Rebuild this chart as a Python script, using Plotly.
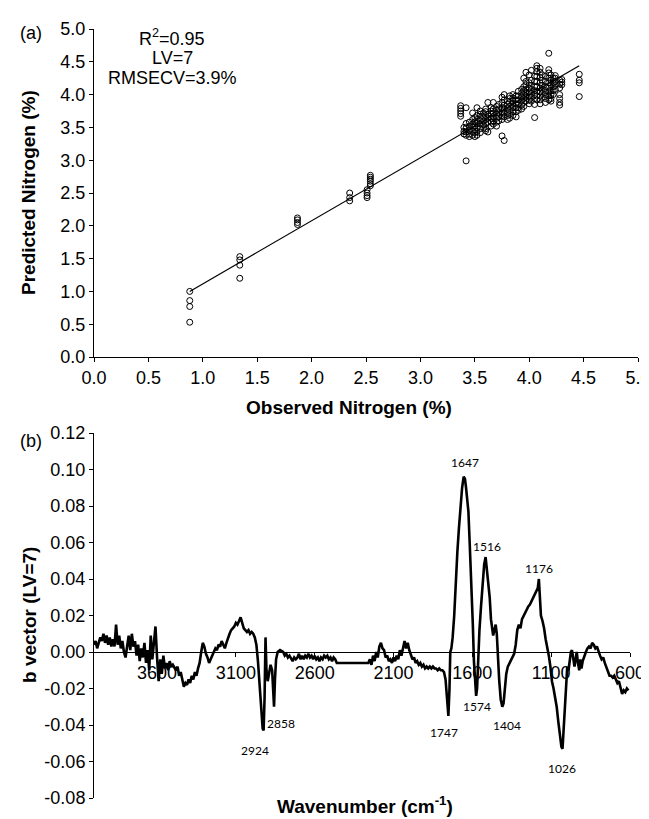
import plotly.graph_objects as go

# ---------------- data: panel (a) ----------------
observed_nitrogen = [
    0.88, 0.88, 0.88, 0.88,
    1.34, 1.34, 1.34, 1.34,
    1.87, 1.87, 1.87, 1.87,
    2.35, 2.35, 2.35,
    2.51, 2.51, 2.51, 2.51,
    2.54, 2.54, 2.54, 2.54, 2.54, 2.54,
    3.37, 3.37, 3.37, 3.37, 3.37,
    3.40, 3.40, 3.40,
    3.42, 3.42, 3.42, 3.42, 3.42, 3.42,
    3.45, 3.45, 3.45, 3.45, 3.45,
    3.48, 3.48, 3.48, 3.48, 3.48, 3.48,
    3.50, 3.50, 3.50, 3.50, 3.50, 3.50,
    3.52, 3.52, 3.52, 3.52, 3.52, 3.52, 3.52,
    3.55, 3.55, 3.55, 3.55, 3.55, 3.55, 3.55,
    3.58, 3.58, 3.58, 3.58, 3.58,
    3.60, 3.60, 3.60, 3.60, 3.60, 3.60, 3.60,
    3.62, 3.62, 3.62, 3.62, 3.62,
    3.65, 3.65, 3.65, 3.65, 3.65, 3.65,
    3.67, 3.67, 3.67, 3.67, 3.67, 3.67,
    3.70, 3.70, 3.70, 3.70, 3.70, 3.70,
    3.72, 3.72, 3.72, 3.72, 3.72,
    3.75, 3.75, 3.75, 3.75, 3.75, 3.75, 3.75,
    3.77, 3.77, 3.77, 3.77, 3.77, 3.77, 3.77,
    3.80, 3.80, 3.80, 3.80, 3.80, 3.80,
    3.82, 3.82, 3.82, 3.82, 3.82, 3.82, 3.82,
    3.85, 3.85, 3.85, 3.85, 3.85, 3.85, 3.85,
    3.88, 3.88, 3.88, 3.88, 3.88, 3.88,
    3.90, 3.90, 3.90, 3.90, 3.90, 3.90,
    3.93, 3.93, 3.93, 3.93, 3.93, 3.93,
    3.95, 3.95, 3.95, 3.95, 3.95, 3.95, 3.95,
    3.97, 3.97, 3.97, 3.97, 3.97, 3.97, 3.97,
    4.00, 4.00, 4.00, 4.00, 4.00, 4.00, 4.00,
    4.02, 4.02, 4.02, 4.02, 4.02, 4.02, 4.02,
    4.05, 4.05, 4.05, 4.05, 4.05, 4.05, 4.05, 4.05,
    4.07, 4.07, 4.07, 4.07, 4.07, 4.07, 4.07, 4.07, 4.07,
    4.10, 4.10, 4.10, 4.10, 4.10, 4.10, 4.10, 4.10, 4.10,
    4.12, 4.12, 4.12, 4.12, 4.12, 4.12,
    4.15, 4.15, 4.15, 4.15, 4.15, 4.15, 4.15,
    4.18, 4.18, 4.18, 4.18, 4.18, 4.18, 4.18, 4.18, 4.18,
    4.20, 4.20, 4.20, 4.20, 4.20, 4.20, 4.20,
    4.22, 4.22, 4.22, 4.22, 4.22,
    4.24, 4.24, 4.24, 4.24, 4.24,
    4.28, 4.28, 4.28, 4.28, 4.28, 4.28, 4.28,
    4.30, 4.30, 4.30,
    4.46, 4.46, 4.46, 4.46,
]
predicted_nitrogen = [
    1.00, 0.86, 0.77, 0.53,
    1.53, 1.48, 1.40, 1.20,
    2.12, 2.09, 2.05, 2.02,
    2.50, 2.43, 2.38,
    2.55, 2.50, 2.46, 2.43,
    2.77, 2.74, 2.71, 2.68, 2.64, 2.61,
    3.83, 3.79, 3.75, 3.71, 3.67,
    3.50, 3.44, 3.40,
    3.80, 3.56, 3.49, 3.43, 3.38, 2.99,
    3.58, 3.52, 3.46, 3.40, 3.36,
    3.72, 3.62, 3.55, 3.50, 3.44, 3.38,
    3.65, 3.58, 3.52, 3.47, 3.42, 3.36,
    3.80, 3.68, 3.62, 3.56, 3.50, 3.44, 3.38,
    3.75, 3.70, 3.65, 3.60, 3.55, 3.48, 3.42,
    3.72, 3.66, 3.60, 3.54, 3.50,
    3.78, 3.74, 3.68, 3.62, 3.56, 3.48, 3.45,
    3.88, 3.70, 3.64, 3.58, 3.43,
    3.80, 3.75, 3.70, 3.64, 3.58, 3.52,
    3.88, 3.78, 3.72, 3.66, 3.60, 3.55,
    3.82, 3.76, 3.70, 3.64, 3.58, 3.52,
    3.85, 3.78, 3.72, 3.66, 3.60,
    3.96, 3.88, 3.80, 3.74, 3.68, 3.62, 3.37,
    4.00, 3.92, 3.84, 3.78, 3.72, 3.66, 3.30,
    3.90, 3.85, 3.80, 3.74, 3.68, 3.62,
    3.98, 3.94, 3.88, 3.82, 3.76, 3.70, 3.64,
    4.00, 3.95, 3.90, 3.85, 3.80, 3.74, 3.68,
    3.98, 3.92, 3.86, 3.80, 3.74, 3.66,
    4.05, 3.98, 3.92, 3.86, 3.80, 3.76,
    4.08, 4.02, 3.96, 3.90, 3.84, 3.78,
    4.25, 4.12, 4.06, 4.00, 3.94, 3.88, 3.82,
    4.34, 4.20, 4.15, 4.08, 4.02, 3.96, 3.90,
    4.30, 4.18, 4.10, 4.04, 3.98, 3.92, 3.86,
    4.37, 4.22, 4.14, 4.08, 4.02, 3.96, 3.90,
    4.28, 4.20, 4.12, 4.06, 4.00, 3.94, 3.85, 3.65,
    4.44, 4.40, 4.35, 4.28, 4.20, 4.12, 4.05, 3.98, 3.92,
    4.40, 4.34, 4.26, 4.18, 4.10, 4.04, 3.98, 3.92, 3.86,
    4.30, 4.22, 4.14, 4.08, 4.02, 3.96,
    4.28, 4.20, 4.12, 4.06, 4.00, 3.94, 3.88,
    4.63, 4.38, 4.33, 4.25, 4.18, 4.10, 4.04, 3.98, 3.92,
    4.30, 4.22, 4.15, 4.06, 4.00, 3.94, 3.90,
    4.25, 4.18, 4.12, 4.06, 4.00,
    4.29, 4.25, 4.20, 4.14, 4.08,
    4.22, 4.16, 4.10, 4.00, 3.94, 3.88, 3.84,
    4.23, 4.19, 4.15,
    4.31, 4.22, 4.18, 3.97,
]
fit_observed = [0.88, 4.46]
fit_predicted = [1.00, 4.44]
axis_a_ticks = [0.0, 0.5, 1.0, 1.5, 2.0, 2.5, 3.0, 3.5, 4.0, 4.5, 5.0]

# ---------------- data: panel (b) ----------------
wavenumber = [
    4000, 3990, 3980, 3970, 3960, 3950, 3940, 3930, 3920, 3910,
    3900, 3890, 3880, 3870, 3860, 3850, 3840, 3830, 3820, 3810,
    3800, 3790, 3780, 3770, 3760, 3750, 3740, 3730, 3720, 3710,
    3700, 3690, 3680, 3670, 3660, 3650, 3640, 3630, 3620, 3610,
    3600, 3590, 3580, 3570, 3560, 3550, 3540, 3530, 3520, 3510,
    3500, 3490, 3480, 3470, 3460, 3450, 3440, 3430, 3420, 3410,
    3400, 3390, 3380, 3370, 3360, 3350, 3340, 3330, 3320, 3310,
    3300, 3290, 3280, 3270, 3260, 3250, 3240, 3230, 3220, 3210,
    3200, 3190, 3180, 3170, 3160, 3150, 3140, 3130, 3120, 3110,
    3100, 3090, 3080, 3070, 3060, 3050, 3040, 3030, 3020, 3010,
    3000, 2990, 2980, 2970, 2960, 2950, 2940, 2930, 2924, 2918,
    2912, 2906, 2898, 2890, 2880, 2870, 2864, 2858, 2852, 2845,
    2835, 2820, 2800, 2790, 2780, 2770, 2760, 2750, 2740, 2730,
    2720, 2710, 2700, 2690, 2680, 2670, 2660, 2650, 2640, 2630,
    2620, 2610, 2600, 2590, 2580, 2570, 2560, 2550, 2540, 2530,
    2520, 2510, 2500, 2490, 2480, 2470, 2460, 2440, 2400, 2350,
    2300, 2270, 2260, 2250, 2240, 2230, 2220, 2210, 2200, 2190,
    2180, 2170, 2160, 2150, 2140, 2130, 2120, 2110, 2100, 2090,
    2080, 2070, 2060, 2050, 2040, 2030, 2020, 2010, 2000, 1990,
    1980, 1970, 1960, 1950, 1940, 1930, 1920, 1910, 1900, 1890,
    1880, 1870, 1860, 1850, 1840, 1830, 1820, 1810, 1800, 1790,
    1780, 1770, 1760, 1752, 1745, 1740, 1733, 1725, 1715, 1705,
    1695, 1685, 1675, 1665, 1655, 1647, 1640, 1632, 1625, 1617,
    1607, 1597, 1590, 1582, 1576, 1570, 1563, 1555, 1545, 1535,
    1525, 1516, 1508, 1500, 1490, 1482, 1475, 1468, 1460, 1452,
    1445, 1440, 1430, 1420, 1410, 1402, 1395, 1385, 1375, 1365,
    1355, 1345, 1335, 1325, 1315, 1305, 1295, 1285, 1275, 1265,
    1255, 1245, 1235, 1225, 1215, 1205, 1195, 1185, 1178, 1172,
    1165, 1155, 1145, 1135, 1125, 1115, 1105, 1095, 1085, 1075,
    1065, 1055, 1045, 1035, 1028, 1020, 1012, 1005, 998, 990,
    982, 975, 968, 960, 952, 945, 938, 930, 922, 915,
    908, 900, 890, 880, 870, 860, 850, 840, 830, 820,
    810, 800, 790, 780, 770, 760, 750, 740, 730, 720,
    710, 700, 690, 680, 670, 660, 650, 640, 630, 620,
    610,
]
b_vector = [
    0.004, 0.006, 0.002, 0.005, 0.008, 0.006, 0.010, 0.005, 0.009, 0.004,
    0.008, 0.003, 0.007, 0.003, 0.015, 0.004, 0.009, 0.002, 0.006, 0.000,
    -0.003, 0.003, 0.009, 0.001, 0.010, 0.003, 0.006, -0.002, 0.004, -0.005,
    0.002, -0.003, 0.005, -0.006, 0.001, -0.010, 0.009, -0.004, 0.004, 0.014,
    -0.003, -0.016, -0.004, -0.012, -0.002, -0.009, -0.006, -0.010, -0.005, -0.008,
    -0.007, -0.009, -0.010, -0.008, -0.013, -0.011, -0.016, -0.019, -0.017, -0.018,
    -0.015, -0.017, -0.013, -0.015, -0.011, -0.013, -0.009, -0.006, 0.000, 0.005,
    0.003, -0.001, -0.003, -0.006, -0.004, -0.002, 0.001, 0.002, 0.001, 0.004,
    0.003, 0.006, 0.004, 0.002, 0.005, 0.008, 0.010, 0.012, 0.013, 0.014,
    0.016, 0.015, 0.017, 0.019, 0.016, 0.013, 0.012, 0.011, 0.012, 0.010,
    0.011, 0.010, 0.008, 0.004, -0.005, -0.018, -0.032, -0.042, -0.043, -0.025,
    0.008, -0.010, -0.016, -0.012, -0.007, -0.010, -0.022, -0.030, -0.015, -0.004,
    0.000, 0.001, 0.000, -0.002, -0.001, -0.003, -0.002, -0.004, -0.005, -0.003,
    -0.004, -0.003, -0.001, -0.004, -0.002, -0.004, -0.002, -0.003, -0.001, -0.003,
    -0.002, -0.004, -0.002, -0.004, -0.003, -0.005, -0.003, -0.004, -0.002, -0.003,
    -0.002, -0.004, -0.003, -0.005, -0.003, -0.004, -0.006, -0.006, -0.006, -0.006,
    -0.006, -0.006, -0.006, -0.004, -0.007, -0.002, -0.005, 0.000, -0.003, 0.003,
    0.005, 0.002, 0.001, -0.003, -0.002, -0.005, -0.004, -0.006, -0.003, -0.005,
    -0.002, -0.004, 0.001, -0.002, 0.003, 0.006, 0.002, 0.005, 0.001, -0.002,
    -0.004, -0.003, -0.006, -0.005, -0.007, -0.006, -0.008, -0.007, -0.009, -0.008,
    -0.009, -0.008, -0.009, -0.008, -0.009, -0.009, -0.010, -0.009, -0.010, -0.010,
    -0.011, -0.015, -0.026, -0.035, -0.020, 0.000, 0.002, 0.008, 0.020, 0.040,
    0.055, 0.068, 0.082, 0.090, 0.096, 0.095, 0.090, 0.080, 0.077, 0.060,
    0.040, 0.015, -0.005, -0.018, -0.024, -0.020, 0.000, 0.012, 0.025, 0.038,
    0.048, 0.052, 0.045, 0.038, 0.030, 0.018, 0.012, 0.009, 0.012, 0.015,
    0.010, 0.000, -0.015, -0.026, -0.030, -0.028, -0.020, -0.012, -0.008, -0.006,
    -0.004, -0.002, -0.001, 0.004, 0.012, 0.015, 0.013, 0.018, 0.020, 0.022,
    0.024, 0.025, 0.026, 0.028, 0.030, 0.031, 0.033, 0.035, 0.040, 0.030,
    0.020, 0.017, 0.013, 0.007, 0.003, -0.002, -0.008, -0.016, -0.020, -0.025,
    -0.030, -0.038, -0.045, -0.052, -0.053, -0.040, -0.025, -0.015, -0.008, -0.010,
    -0.004, 0.000, 0.001, -0.004, -0.008, -0.004, 0.000, -0.006, -0.010, -0.004,
    -0.009, -0.005, -0.002, 0.000, 0.002, 0.003, 0.002, 0.005, 0.004, 0.002,
    0.003, 0.000, -0.002, -0.004, -0.003, -0.006, -0.008, -0.011, -0.013, -0.013,
    -0.014, -0.013, -0.015, -0.017, -0.016, -0.019, -0.023, -0.021, -0.022, -0.020,
    -0.021,
]
axis_b_xticks = [3600, 3100, 2600, 2100, 1600, 1100, 600]
axis_b_yticks = [0.12, 0.10, 0.08, 0.06, 0.04, 0.02, 0.00, -0.02, -0.04, -0.06, -0.08]
peak_names = ["1647", "1516", "1176", "2924", "2858", "1747", "1574", "1404", "1026"]

# ---------------- figure ----------------
W, H = 649, 819
FONT = "Arial, Liberation Sans, sans-serif"
PEAK_FONT = "Lato, Open Sans, sans-serif"


def px(x):
    return x / W


def py(y):
    return 1 - y / H


fig = go.Figure()
fig.add_trace(go.Scatter(
    x=observed_nitrogen, y=predicted_nitrogen, mode="markers",
    marker=dict(symbol="circle-open", size=6, color="black", line=dict(width=1, color="black")),
    xaxis="x", yaxis="y", showlegend=False, cliponaxis=False))
fig.add_trace(go.Scatter(
    x=fit_observed, y=fit_predicted, mode="lines",
    line=dict(color="black", width=1.2), xaxis="x", yaxis="y", showlegend=False))
fig.add_trace(go.Scatter(
    x=wavenumber, y=b_vector, mode="lines",
    line=dict(color="black", width=2.6), xaxis="x2", yaxis="y2", showlegend=False))

axis_common = dict(showline=True, linecolor="black", linewidth=1, ticks="outside",
                   ticklen=4, tickcolor="black", showgrid=False, zeroline=False,
                   automargin=False, ticklabeloverflow="allow",
                   tickfont=dict(family=FONT, size=18, color="black"))

# panel (b) y-range and position of y=0 for the crossing x-axis
yb_lo, yb_hi = -0.08, 0.12
yb_dom = [py(790), py(425)]
zero_pos = yb_dom[0] + (0 - yb_lo) / (yb_hi - yb_lo) * (yb_dom[1] - yb_dom[0])

fig.update_layout(
    width=W, height=H,
    margin=dict(l=0, r=0, t=0, b=0, autoexpand=False),
    paper_bgcolor="white", plot_bgcolor="white",
    showlegend=False,
    xaxis=dict(domain=[px(86), px(630)], range=[0, 5], anchor="y",
               tickvals=axis_a_ticks, ticktext=[f"{v:.1f}" for v in axis_a_ticks], **axis_common),
    yaxis=dict(domain=[py(349), py(21)], range=[0, 5], anchor="x",
               tickvals=axis_a_ticks, ticktext=[f"{v:.1f}" for v in axis_a_ticks], **axis_common),
    xaxis2=dict(domain=[px(86), px(622)], range=[4000, 600], anchor="free", position=zero_pos,
                tickvals=axis_b_xticks, ticktext=[str(v) for v in axis_b_xticks],
                layer="below traces", **axis_common),
    yaxis2=dict(domain=yb_dom, range=[yb_lo, yb_hi], anchor="x2",
                tickvals=axis_b_yticks, ticktext=[f"{v:.2f}".replace("-0.00", "0.00") for v in axis_b_yticks],
                **axis_common),
)

ann = []


def paper_text(text, x, y, size=18, angle=0):
    return dict(text=text, x=px(x), y=py(y), xref="paper", yref="paper", showarrow=False,
                xanchor="center", yanchor="middle", textangle=angle,
                font=dict(family=FONT, size=size, color="black"))


# panel letters
ann.append(paper_text("(a)", 23, 25))
ann.append(paper_text("(b)", 23, 433))
# stats text
for txt, yy in [("R<sup>2</sup>=0.95", 30), ("LV=7", 50), ("RMSECV=3.9%", 70)]:
    ann.append(paper_text(txt, 164, yy))
# axis titles
ann.append(paper_text("<b>Observed Nitrogen (%)</b>", 341, 399, size=19))
ann.append(paper_text("<b>Predicted Nitrogen (%)</b>", 21, 185, size=19, angle=-90))
ann.append(paper_text("<b>b vector (LV=7)</b>", 21, 607, size=19, angle=-90))
ann.append(paper_text("<b>Wavenumber (cm<sup>-1</sup>)</b>", 357, 797, size=19))
# peak labels (placed in data coordinates of panel b)
peak_spots = [(1647, 0.104), (1507, 0.058), (1177, 0.046), (2979, -0.054), (2814, -0.039),
              (1780, -0.044), (1571, -0.030), (1380, -0.040), (1031, -0.064)]
for name, (wx, wy) in zip(peak_names, peak_spots):
    ann.append(dict(text=name, x=wx, y=wy, xref="x2", yref="y2", showarrow=False,
                    xanchor="center", yanchor="middle",
                    font=dict(family=PEAK_FONT, size=12, color="black")))

fig.update_layout(annotations=ann)
fig.write_html("out.html")
